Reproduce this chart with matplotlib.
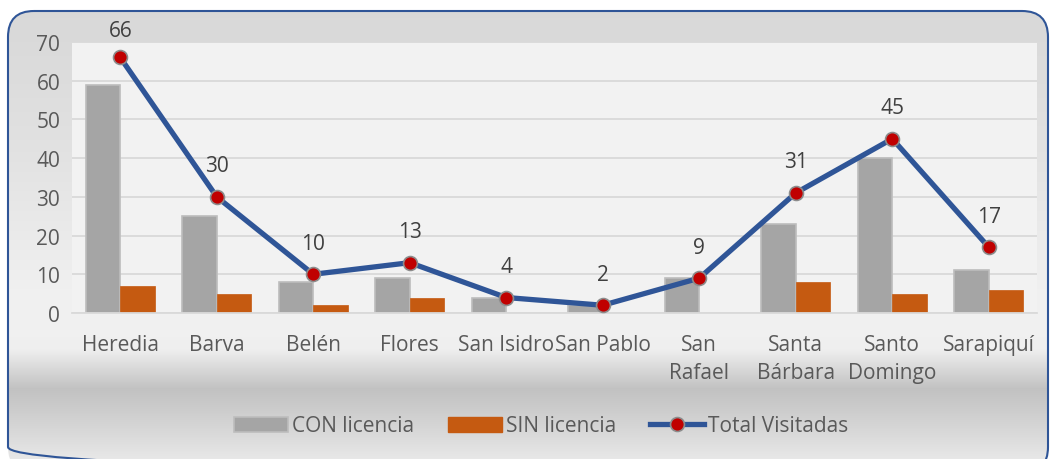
import numpy as np
import matplotlib
matplotlib.use("Agg")
import matplotlib.pyplot as plt
from matplotlib.patches import FancyBboxPatch, Patch
from matplotlib.lines import Line2D

plt.rcParams['font.family'] = ['Open Sans', 'DejaVu Sans']

categories = ["Heredia", "Barva", "Belén", "Flores", "San Isidro", "San Pablo",
              "San\nRafael", "Santa\nBárbara", "Santo\nDomingo", "Sarapiquí"]
con_licencia = [59, 25, 8, 9, 4, 2, 9, 23, 40, 11]
sin_licencia = [7, 5, 2, 4, 0, 0, 0, 8, 5, 6]
total_visitadas = [66, 30, 10, 13, 4, 2, 9, 31, 45, 17]
y_ticks = [0, 10, 20, 30, 40, 50, 60, 70]

W, H = 1050, 460
FS = 15
fig = plt.figure(figsize=(W/100, H/100), dpi=100)
fig.patch.set_facecolor('white')

# background frame with gradient
bg = fig.add_axes([0, 0, 1, 1], zorder=-5)
bg.set_xlim(0, W); bg.set_ylim(H, 0); bg.axis('off')
stops_y = [12, 43, 150, 300, 350, 390, 425, 470]
stops_v = [0.85, 0.855, 0.885, 0.945, 0.94, 0.76, 0.83, 0.93]
yy = np.arange(0, H + 1)
vals = np.interp(yy, stops_y, stops_v)
img = np.repeat(vals[:, None], 2, axis=1)
frame = FancyBboxPatch((8, 12), 1040, 462, boxstyle="round,pad=0,rounding_size=26",
                       facecolor='none', edgecolor='#2f5597', linewidth=1.5,
                       transform=bg.transData, zorder=3)
im = bg.imshow(np.dstack([img, img, img]), extent=(0, W, H, 0), aspect='auto',
               interpolation='bilinear', zorder=1)
bg.add_patch(frame)
im.set_clip_path(frame)
bg.set_xlim(0, W); bg.set_ylim(H, 0)

ax = fig.add_axes([72/W, 1 - 314/H, (1037-72)/W, (314-43)/H])
ax.set_facecolor('#f2f2f2')
x = np.arange(len(categories))
bw = 0.36
ax.bar(x - bw/2, con_licencia, bw, color='#a5a5a5', edgecolor='#bdbdbd', linewidth=1.2,
       label='CON licencia', zorder=2)
ax.bar(x + bw/2, sin_licencia, bw, color='#c55a11', edgecolor='#c55a11', linewidth=0.5,
       label='SIN licencia', zorder=2)
ax.plot(x, total_visitadas, color='#2f5597', linewidth=3.8, marker='o', markersize=10,
        markerfacecolor='#c00000', markeredgecolor='#8c8c8c', markeredgewidth=1.2,
        label='Total Visitadas', zorder=4)

ax.set_xlim(-0.5, len(categories) - 0.5)
ax.set_ylim(0, 70)

# data labels above points, kept inside the chart area
for xi, v in zip(x, total_visitadas):
    py = ax.transData.transform((xi, v))[1]
    center = min(py + 31, H - 32)
    off = (center - py) * 72 / 100
    ax.annotate(str(v), (xi, v), xytext=(0, off), textcoords='offset points',
                ha='center', va='center', fontsize=FS, color='#404040', zorder=5)

ax.set_yticks(y_ticks)
ax.set_yticklabels([str(t) for t in y_ticks])
ax.set_xticks(x)
ax.set_xticklabels(categories, linespacing=1.45)
ax.tick_params(axis='both', length=0, labelsize=FS, labelcolor='#595959')
ax.tick_params(axis='y', pad=8.5)
ax.tick_params(axis='x', pad=15)
ax.grid(axis='y', color='#d9d9d9', linewidth=1.3, zorder=0)
ax.set_axisbelow(True)
for s in ['top', 'right', 'left']:
    ax.spines[s].set_visible(False)
ax.spines['bottom'].set_color('#d9d9d9')
ax.spines['bottom'].set_linewidth(1.3)

handles = [Patch(facecolor='#a5a5a5', edgecolor='#bdbdbd', linewidth=1.2, label='CON licencia'),
           Patch(facecolor='#c55a11', edgecolor='#c55a11', label='SIN licencia'),
           Line2D([], [], color='#2f5597', linewidth=3.8, marker='o', markersize=10,
                  markerfacecolor='#c00000', markeredgecolor='#8c8c8c', markeredgewidth=1.2,
                  label='Total Visitadas')]
leg = fig.legend(handles=handles, loc='center', bbox_to_anchor=(541/W, 1 - 427/H),
                 ncol=3, frameon=False, fontsize=FS, handlelength=2.6, handleheight=0.7,
                 handletextpad=0.2, columnspacing=1.6, labelcolor='#595959')

fig.savefig('out.png', dpi=100, facecolor='white')
